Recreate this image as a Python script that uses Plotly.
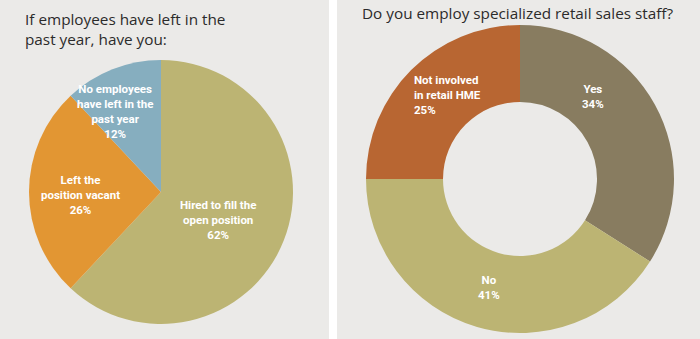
import plotly.graph_objects as go

W, H = 700, 339

# Left pie data
left_labels = ["Hired to fill the open position", "Left the position vacant", "No employees have left in the past year"]
left_values = [62, 26, 12]
left_colors = ["#bcb473", "#e29633", "#86aebf"]

# Right donut data
right_labels = ["Yes", "No", "Not involved in retail HME"]
right_values = [34, 41, 25]
right_colors = ["#887c60", "#bcb473", "#b86632"]

def px_x(v):
    return v / W

def px_y(v):
    return 1 - v / H

fig = go.Figure()

fig.add_trace(go.Pie(
    labels=left_labels, values=left_values, sort=False, direction="clockwise", rotation=0,
    marker=dict(colors=left_colors, line=dict(width=0)), textinfo="none", hoverinfo="label+percent",
    domain=dict(x=[px_x(29), px_x(293)], y=[px_y(324), px_y(60)]), showlegend=False,
))
fig.add_trace(go.Pie(
    labels=right_labels, values=right_values, sort=False, direction="clockwise", rotation=0, hole=0.5,
    marker=dict(colors=right_colors, line=dict(width=0)), textinfo="none", hoverinfo="label+percent",
    domain=dict(x=[px_x(366), px_x(674)], y=[px_y(333), px_y(25)]), showlegend=False,
))

# Panel backgrounds
bg = "#ebeae8"
fig.add_shape(type="rect", xref="paper", yref="paper", x0=0, x1=px_x(329), y0=0, y1=1,
              fillcolor=bg, line=dict(width=0), layer="below")
fig.add_shape(type="rect", xref="paper", yref="paper", x0=px_x(337), x1=1, y0=0, y1=1,
              fillcolor=bg, line=dict(width=0), layer="below")

lab_font = dict(family="Liberation Sans Narrow, Roboto, Arial", size=11.5, color="white")

def lab(text, x, y, align="center", xanchor="center"):
    fig.add_annotation(text=text, x=px_x(x), y=px_y(y), xref="paper", yref="paper",
                       showarrow=False, font=lab_font, align=align, xanchor=xanchor, yanchor="middle")

lab("<b>No employees<br>have left in the<br>past year<br>" + f"{left_values[2]}%</b>", 115, 111)
lab("<b>Left the<br>position vacant<br>" + f"{left_values[1]}%</b>", 80, 195)
lab("<b>Hired to fill the<br>open position<br>" + f"{left_values[0]}%</b>", 218, 220)
lab("<b>Not involved<br>in retail HME<br>" + f"{right_values[2]}%</b>", 412, 95, align="left", xanchor="left")
lab("<b>Yes<br>" + f"{right_values[0]}%</b>", 593, 97)
lab("<b>No<br>" + f"{right_values[1]}%</b>", 489, 287)

title_font = dict(family="Open Sans, Lato, Arial", size=15.3, color="#2b2b2b")
fig.add_annotation(text="If employees have left in the<br>past year, have you:", x=px_x(23), y=px_y(29),
                   xref="paper", yref="paper", showarrow=False, font=title_font, align="left",
                   xanchor="left", yanchor="middle")
fig.add_annotation(text="Do you employ specialized retail sales staff?", x=px_x(518), y=px_y(13),
                   xref="paper", yref="paper", showarrow=False, font=title_font, align="center",
                   xanchor="center", yanchor="middle")

fig.update_layout(width=W, height=H, margin=dict(l=0, r=0, t=0, b=0),
                  paper_bgcolor="white", plot_bgcolor="white")

fig.write_html("out.html", config={"displayModeBar": False})
